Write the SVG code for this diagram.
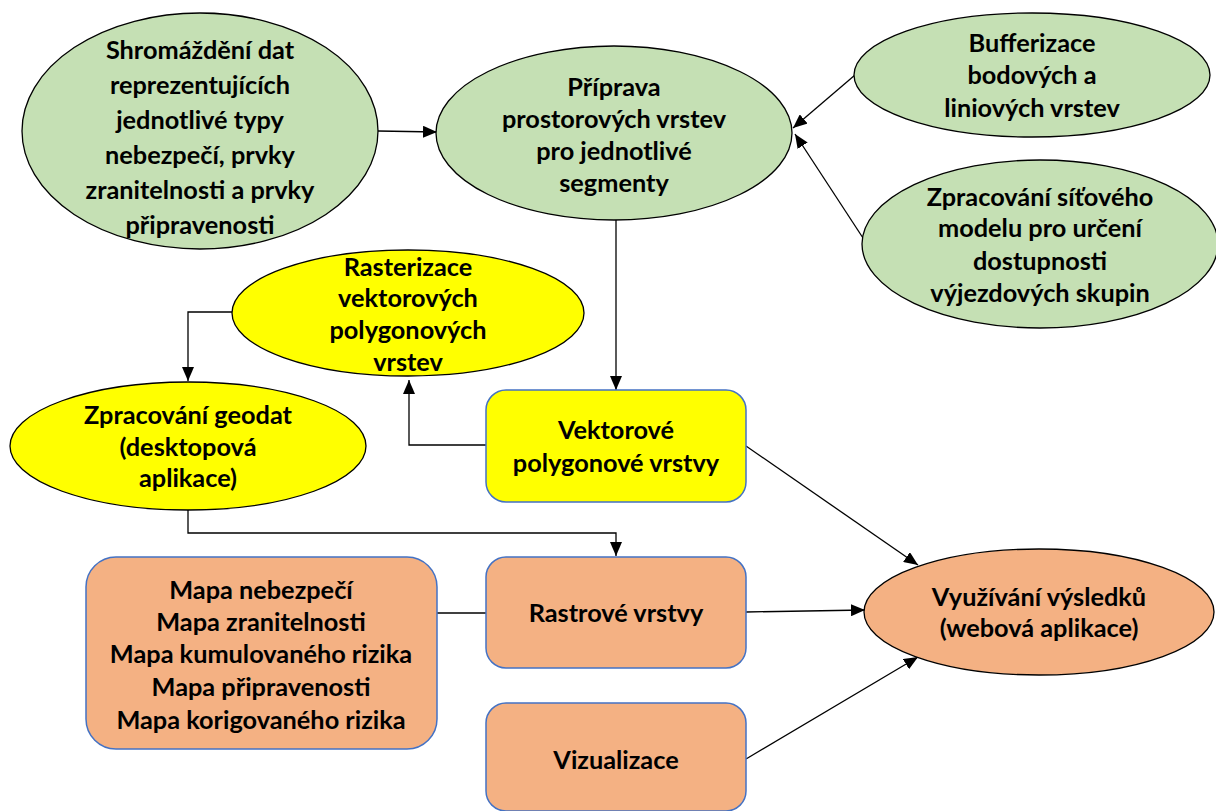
<svg xmlns="http://www.w3.org/2000/svg" width="1216" height="811" viewBox="0 0 1216 811">
<style>
text{font-family:Lato,"Open Sans","Liberation Sans",sans-serif;font-weight:bold;font-size:25.3px;fill:#000;text-anchor:middle}
.g{fill:#C5E0B4;stroke:#000;stroke-width:1.3}
.y{fill:#FFFF00;stroke:#000;stroke-width:1.3}
.o{fill:#F4B183;stroke:#000;stroke-width:1.3}
.by{fill:#FFFF00;stroke:#4472C4;stroke-width:1.5}
.bo{fill:#F4B183;stroke:#4472C4;stroke-width:1.5}
.c{fill:none;stroke:#000;stroke-width:1.3}
</style>
<defs>
<marker id="a" markerUnits="userSpaceOnUse" markerWidth="14" markerHeight="12" refX="14" refY="6" orient="auto">
<path d="M0,0 L14,6 L0,12 Z" fill="#000"/>
</marker>
</defs>
<g id="connectors">
<path class="c" d="M378,131 L437,132" marker-end="url(#a)"/>
<path class="c" d="M855,75 L793,128" marker-end="url(#a)"/>
<path class="c" d="M863,238 L795,134" marker-end="url(#a)"/>
<path class="c" d="M616,220 L616,390" marker-end="url(#a)"/>
<path class="c" d="M486,445 L409,445 L409,380" marker-end="url(#a)"/>
<path class="c" d="M232,312 L188,312 L188,381" marker-end="url(#a)"/>
<path class="c" d="M188,509 L188,533 L616,533 L616,556" marker-end="url(#a)"/>
<path class="c" d="M437,613 L486,613"/>
<path class="c" d="M746,612 L865,610" marker-end="url(#a)"/>
<path class="c" d="M746,446 L918,565" marker-end="url(#a)"/>
<path class="c" d="M746,759 L918,657" marker-end="url(#a)"/>
</g>
<g id="n1">
<ellipse class="g" cx="200" cy="131" rx="178" ry="118"/>
<text x="200" y="59">Shromáždění dat</text>
<text x="200" y="94">reprezentujících</text>
<text x="200" y="129">jednotlivé typy</text>
<text x="200" y="164">nebezpečí, prvky</text>
<text x="200" y="199">zranitelnosti a prvky</text>
<text x="200" y="234">připravenosti</text>
</g>
<g id="n2">
<ellipse class="g" cx="614" cy="133" rx="178" ry="87"/>
<text x="614" y="96">Příprava</text>
<text x="614" y="128">prostorových vrstev</text>
<text x="614" y="160">pro jednotlivé</text>
<text x="614" y="192">segmenty</text>
</g>
<g id="n3">
<ellipse class="g" cx="1032" cy="75" rx="178" ry="62"/>
<text x="1032" y="52">Bufferizace</text>
<text x="1032" y="84">bodových a</text>
<text x="1032" y="117">liniových vrstev</text>
</g>
<g id="n4">
<ellipse class="g" cx="1040" cy="244" rx="178" ry="84"/>
<text x="1040" y="206">Zpracování síťového</text>
<text x="1040" y="237">modelu pro určení</text>
<text x="1040" y="270">dostupnosti</text>
<text x="1040" y="302">výjezdových skupin</text>
</g>
<g id="n5">
<ellipse class="y" cx="408" cy="313" rx="176" ry="63"/>
<text x="408" y="276">Rasterizace</text>
<text x="408" y="307">vektorových</text>
<text x="408" y="339">polygonových</text>
<text x="408" y="371">vrstev</text>
</g>
<g id="n6">
<ellipse class="y" cx="188" cy="446" rx="178" ry="64"/>
<text x="188" y="424">Zpracování geodat</text>
<text x="188" y="456">(desktopová</text>
<text x="188" y="487">aplikace)</text>
</g>
<g id="n7">
<rect class="by" x="486" y="390" width="260" height="112" rx="20"/>
<text x="616" y="439">Vektorové</text>
<text x="616" y="472">polygonové vrstvy</text>
</g>
<g id="n8">
<rect class="bo" x="486" y="557" width="260" height="111" rx="20"/>
<text x="616" y="622">Rastrové vrstvy</text>
</g>
<g id="n9">
<rect class="bo" x="86" y="557" width="351" height="192" rx="30"/>
<text x="261" y="599">Mapa nebezpečí</text>
<text x="261" y="631">Mapa zranitelnosti</text>
<text x="261" y="663">Mapa kumulovaného rizika</text>
<text x="261" y="696">Mapa připravenosti</text>
<text x="261" y="729">Mapa korigovaného rizika</text>
</g>
<g id="n10">
<rect class="bo" x="486" y="703" width="260" height="108" rx="20"/>
<text x="616" y="769">Vizualizace</text>
</g>
<g id="n11">
<ellipse class="o" cx="1039" cy="612" rx="175" ry="63"/>
<text x="1039" y="606">Využívání výsledků</text>
<text x="1039" y="637">(webová aplikace)</text>
</g>
</svg>
